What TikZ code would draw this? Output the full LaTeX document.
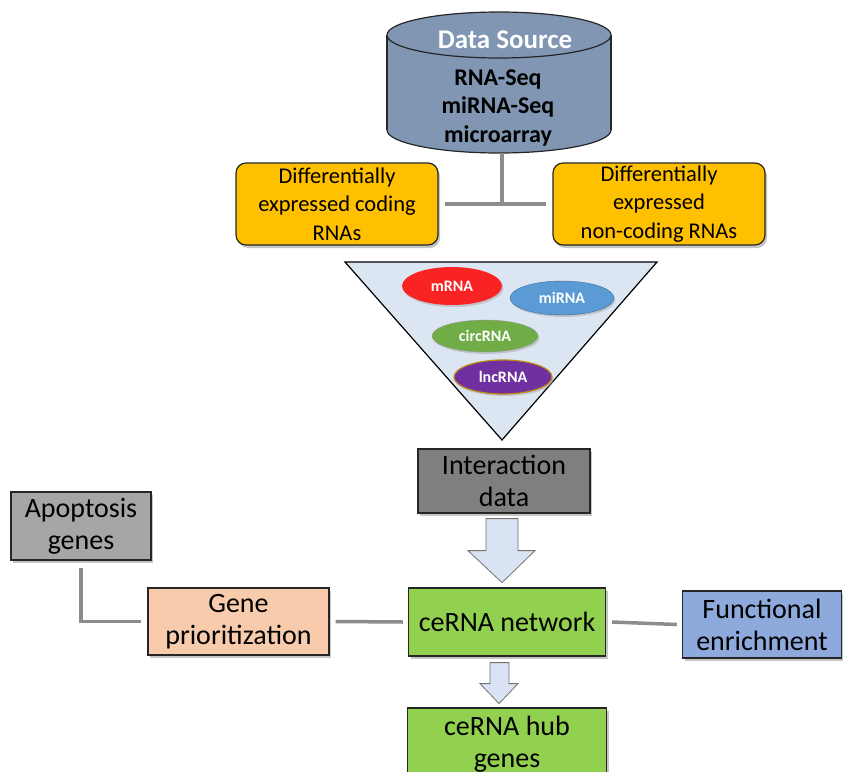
\documentclass[tikz,border=0pt]{standalone}
\usepackage{fontspec}
\setmainfont{Carlito}
\usetikzlibrary{shapes.geometric,shadows,calc}

\definecolor{srcblue}{RGB}{128,150,178}
\definecolor{degorange}{RGB}{255,192,0}
\definecolor{trifill}{RGB}{220,230,242}
\definecolor{mrnared}{RGB}{250,35,35}
\definecolor{mirnablue}{RGB}{91,155,213}
\definecolor{circgreen}{RGB}{112,173,71}
\definecolor{lncpurple}{RGB}{112,48,160}
\definecolor{lncgold}{RGB}{190,140,20}
\definecolor{intergray}{RGB}{127,127,127}
\definecolor{apopgray}{RGB}{166,166,166}
\definecolor{priopeach}{RGB}{248,203,173}
\definecolor{netgreen}{RGB}{146,208,80}
\definecolor{funcblue}{RGB}{142,169,219}
\definecolor{arrowblue}{RGB}{218,227,243}
\definecolor{linkgray}{RGB}{140,140,140}

\begin{document}
\begin{tikzpicture}[x=1pt,y=-1pt,
    box/.style={draw=black!85,line width=1.2pt,align=center,inner sep=0pt,
        drop shadow={shadow xshift=2pt,shadow yshift=-3pt,fill=black!45}},
    degbox/.style={box,rounded corners=10pt,fill=degorange,minimum width=202,minimum height=82,
        font=\fontsize{22.5}{28.5}\selectfont},
    stepbox/.style={box,font=\fontsize{28}{32}\selectfont},
    rna/.style={ellipse,inner sep=0pt,text=white,font=\bfseries\fontsize{16}{18}\selectfont,
        drop shadow={shadow xshift=1.5pt,shadow yshift=-2pt,fill=black!35}},
    link/.style={draw=linkgray,line width=3.5pt},
    fatarrow/.style={fill=arrowblue,draw=black!55,line width=0.8pt,line join=miter}]

        % Frame
        \useasboundingbox (0,0) rectangle (843,771);
        \clip (0,0) rectangle (843,771);

        % Data source cylinder
        \draw[fill=srcblue,draw=black!85,line width=1.2pt] (499,130) ellipse [x radius=112,y radius=23];
        \fill[srcblue] (387,35) rectangle (611,130);
        \draw[black!85,line width=1.2pt] (387,35) -- (387,130) (611,35) -- (611,130);
        \draw[fill=srcblue,draw=black!85,line width=1.2pt] (499,35) ellipse [x radius=112,y radius=23];
        \node[text=white,font=\bfseries\fontsize{27}{30}\selectfont] (srctitle) at (505,40) {Data Source};
        \node[align=center,font=\bfseries\fontsize{24}{28.5}\selectfont] (srcdata) at (498,108)
            {RNA-Seq\\miRNA-Seq\\microarray};
        \coordinate (srcbot) at (502,153);
        \coordinate (junc) at (502,205);

        % Differential expression
        \node[degbox] (degc) at (337,204) {Differentially\\expressed coding\\RNAs};
        \node[degbox,minimum width=212] (degnc) at (659,204) {Differentially\\expressed\\non-coding RNAs};
        \draw[link] (srcbot) -- (junc);
        \draw[link] ($(degc.east)+(6,0)$) -- ($(degnc.west)+(-6,0)$);

        % RNA funnel
        \draw[fill=trifill,draw=black,line width=1.2pt] (345,262) -- (657,262) -- (502,440) -- cycle;
        \node[rna,fill=mrnared,minimum width=100,minimum height=38] (mrna) at (452,286) {mRNA};
        \node[rna,fill=mirnablue,draw=mirnablue!70!black,minimum width=104,minimum height=34] (mirna) at (562,298) {miRNA};
        \node[rna,fill=circgreen,draw=black!40,minimum width=106,minimum height=32] (circ) at (485,336) {circRNA};
        \node[rna,fill=lncpurple,draw=lncgold,line width=1.2pt,minimum width=98,minimum height=34] (lnc) at (503,377) {lncRNA};

        % Network steps
        \node[stepbox,fill=intergray,minimum width=172,minimum height=64] (inter) at (504,481) {Interaction\\data};
        \node[stepbox,fill=apopgray,minimum width=140,minimum height=68] (apop) at (81,526) {Apoptosis\\genes};
        \node[stepbox,fill=priopeach,minimum width=181,minimum height=67] (prio) at (238.5,621.5) {Gene\\prioritization};
        \node[stepbox,fill=netgreen,minimum width=197,minimum height=68] (net) at (507,622) {ceRNA network};
        \node[stepbox,fill=funcblue,minimum width=159,minimum height=67] (func) at (762,624.5) {Functional\\enrichment};
        \node[stepbox,fill=netgreen,minimum width=199,minimum height=68,text depth=0pt] (hub) at (507,742) {ceRNA hub\\genes};

        % Connections
        \draw[link] ($(apop.south)+(0,7)$) |- ($(prio.west)+(-6,0)$);
        \draw[link] ($(prio.east)+(6,0)$) -- ($(net.west)+(-5,0)$);
        \draw[link] ($(net.east)+(6,0)$) -- ($(func.west)+(-5,0)$);

        % Block arrows
        \draw[fatarrow] ($(inter.south)+(-18,5)$) -- ++(0,32) -- ++(-18,0) -- ($(inter.south)+(-2,69)$)
            -- ($(inter.south)+(31,37)$) -- ++(-17,0) -- ($(inter.south)+(14,5)$) -- cycle;
        \draw[fatarrow] ($(net.south)+(-17,6)$) -- ++(0,21) -- ++(-10,0) -- ($(net.south)+(-8,47)$)
            -- ($(net.south)+(11,27)$) -- ++(-9,0) -- ($(net.south)+(2,6)$) -- cycle;

    \end{tikzpicture}
\end{document}
